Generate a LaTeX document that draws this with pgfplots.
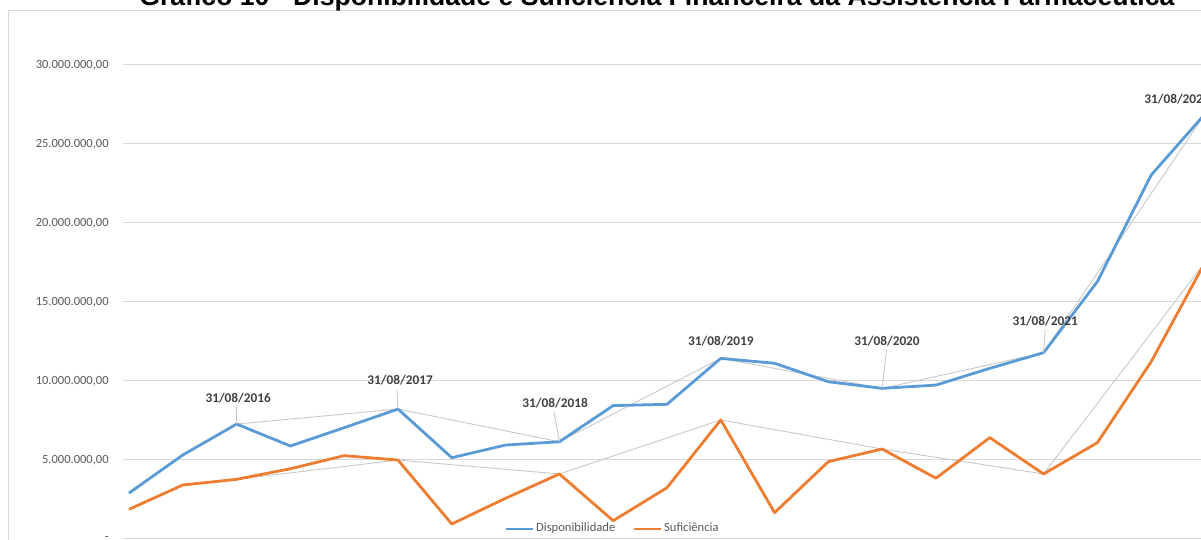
\documentclass[border=0pt]{standalone}
\usepackage{pgfplots}
\pgfplotsset{compat=1.18}
\usepackage{fontspec}
\setmainfont{Carlito}
\newfontfamily\titlefont{Liberation Sans}
\definecolor{cblue}{HTML}{5B9BD5}
\definecolor{corange}{HTML}{ED7D31}
\definecolor{cgrid}{HTML}{D9D9D9}
\definecolor{ctick}{HTML}{595959}
\definecolor{clab}{HTML}{404040}
\definecolor{clead}{HTML}{C8C8C8}
\begin{document}
\begin{tikzpicture}
\useasboundingbox (0pt,0pt) rectangle (600.5pt,270pt);
\clip (0pt,0pt) rectangle (600.5pt,270pt);
% chart border
\draw[cgrid, line width=0.5pt] (4pt,-2pt) -- (4pt,264.5pt) -- (604pt,264.5pt);
% title
\node[anchor=base west, inner sep=0pt] at (69.5pt,267pt)
  {\resizebox{517.5pt}{!}{\titlefont\bfseries Gráfico 10 - Disponibilidade e Suficiência Financeira da Assistência Farmacêutica}};
\begin{axis}[
  at={(61.5pt,0.65pt)}, anchor=south west,
  scale only axis, width=539pt, height=236.85pt,
  xmin=-0.1115, xmax=19.926, ymin=0, ymax=30000000,
  clip=false,
  scaled y ticks=false,
  axis line style={draw=none},
  major tick length=0pt,
  xtick=\empty,
  ytick={0,5000000,10000000,15000000,20000000,25000000,30000000},
  yticklabels={{-\hspace{6pt}},{5.000.000,00},{10.000.000,00},{15.000.000,00},{20.000.000,00},{25.000.000,00},{30.000.000,00}},
  yticklabel style={font=\fontsize{6.25pt}{7pt}\selectfont, text=ctick, anchor=east, inner sep=0pt, xshift=-7pt},
  ymajorgrids, grid style={cgrid, line width=0.5pt},
  legend columns=2,
  legend style={at={(0.4536,0.0205)}, anchor=center, draw=none, fill=none,
    font=\fontsize{6.3pt}{7pt}\selectfont, text=ctick,
    nodes={inner sep=0.5pt},
    /tikz/every odd column/.append style={column sep=0.5pt},
    /tikz/every even column/.append style={column sep=8pt}},
  legend image code/.code={\draw[#1, line width=1.4pt] (0pt,0pt) -- (13.5pt,0pt);},
]
% gray connecting lines (annual points)
\addplot[clead, line width=0.45pt, forget plot] coordinates {
 (2,7260000) (5,8210000) (8,6140000) (11,11420000) (14,9520000) (17,11780000) (20,26900000)};
\addplot[clead, line width=0.45pt, forget plot] coordinates {
 (2,3760000) (5,4980000) (8,4100000) (11,7520000) (14,5680000) (17,4100000) (20,17500000)};
% Disponibilidade
\addplot[cblue, line width=1.4pt, line join=round] coordinates {
 (0,2890000) (1,5300000) (2,7260000) (3,5870000) (4,7030000) (5,8210000)
 (6,5130000) (7,5930000) (8,6140000) (9,8430000) (10,8510000) (11,11420000)
 (12,11110000) (13,9940000) (14,9520000) (15,9730000) (16,10790000) (17,11780000)
 (18,16280000) (19,23030000) (20,26900000)};
\addlegendentry{Disponibilidade}
% Suficiencia
\addplot[corange, line width=1.4pt, line join=round] coordinates {
 (0,1860000) (1,3400000) (2,3760000) (3,4430000) (4,5260000) (5,4980000)
 (6,930000) (7,2560000) (8,4100000) (9,1140000) (10,3230000) (11,7520000)
 (12,1650000) (13,4880000) (14,5680000) (15,3830000) (16,6400000) (17,4100000)
 (18,6080000) (19,11210000) (20,17500000)};
\addlegendentry{Suficiência}
% leader lines
\draw[clead, line width=0.45pt] (axis cs:2,7260000) -- (axis cs:2.0,8340000);
\draw[clead, line width=0.45pt] (axis cs:5,8210000) -- (axis cs:4.98,9410000);
\draw[clead, line width=0.45pt] (axis cs:8,6140000) -- (axis cs:7.90,8040000);
\draw[clead, line width=0.45pt] (axis cs:14,9520000) -- (axis cs:14.08,11950000);
\draw[clead, line width=0.45pt] (axis cs:17,11780000) -- (axis cs:17.03,13220000);
% data labels
\node[font=\fontsize{6.65pt}{7pt}\selectfont\bfseries, text=clab, inner sep=0pt] at (axis cs:2.03,8910000) {31/08/2016};
\node[font=\fontsize{6.65pt}{7pt}\selectfont\bfseries, text=clab, inner sep=0pt] at (axis cs:5.04,10050000) {31/08/2017};
\node[font=\fontsize{6.65pt}{7pt}\selectfont\bfseries, text=clab, inner sep=0pt] at (axis cs:7.92,8590000) {31/08/2018};
\node[font=\fontsize{6.65pt}{7pt}\selectfont\bfseries, text=clab, inner sep=0pt] at (axis cs:11.0,12490000) {31/08/2019};
\node[font=\fontsize{6.65pt}{7pt}\selectfont\bfseries, text=clab, inner sep=0pt] at (axis cs:14.09,12490000) {31/08/2020};
\node[font=\fontsize{6.65pt}{7pt}\selectfont\bfseries, text=clab, inner sep=0pt] at (axis cs:17.03,13760000) {31/08/2021};
\node[font=\fontsize{6.65pt}{7pt}\selectfont\bfseries, text=clab, inner sep=0pt] at (axis cs:19.48,27810000) {31/08/2022};
\end{axis}
\end{tikzpicture}
\end{document}
